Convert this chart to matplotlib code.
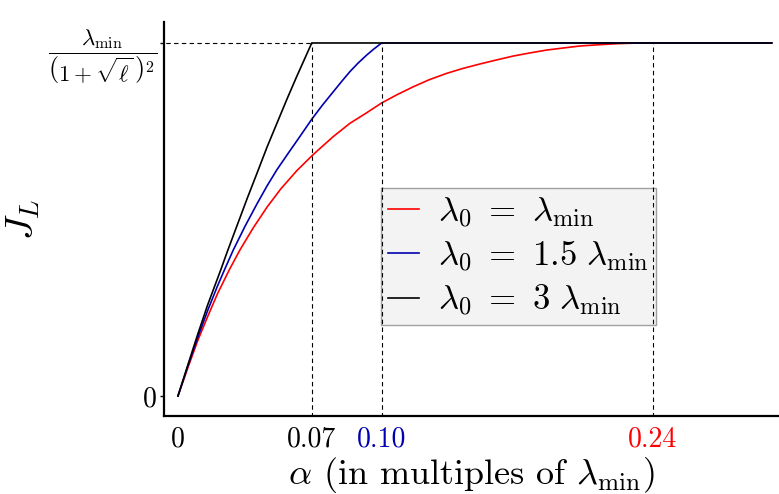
import numpy as np
import matplotlib
matplotlib.use("Agg")
import matplotlib.pyplot as plt

plt.rcParams['font.family'] = 'serif'
plt.rcParams['font.serif'] = ['cmr10']
plt.rcParams['mathtext.fontset'] = 'cm'
plt.rcParams['axes.unicode_minus'] = False

# values (J_L normalised to its ceiling)
x_red = [0, 0.005, 0.01, 0.015, 0.02, 0.0259, 0.0313, 0.038, 0.045, 0.052, 0.06, 0.0676,
         0.0709, 0.0785, 0.0869, 0.095, 0.1026, 0.1105, 0.1189, 0.127, 0.1358, 0.144,
         0.1526, 0.161, 0.1694, 0.178, 0.1863, 0.195, 0.2031, 0.2125, 0.2217, 0.23, 0.2385, 0.30]
y_red = [0, 0.08, 0.157, 0.225, 0.29, 0.357, 0.4136, 0.476, 0.535, 0.587, 0.638, 0.680,
         0.697, 0.735, 0.7725, 0.801, 0.829, 0.853, 0.876, 0.896, 0.914, 0.928,
         0.9405, 0.952, 0.963, 0.972, 0.980, 0.986, 0.9915, 0.995, 0.998, 0.9995, 1.0, 1.0]

x_blue = [0, 0.005, 0.01, 0.015, 0.02, 0.0237, 0.0279, 0.034, 0.04, 0.045, 0.05, 0.056,
          0.0616, 0.0676, 0.073, 0.0785, 0.083, 0.0869, 0.091, 0.0954, 0.099, 0.1029, 0.30]
y_blue = [0, 0.085, 0.166, 0.242, 0.312, 0.36, 0.413, 0.482, 0.545, 0.595, 0.641, 0.69,
          0.735, 0.784, 0.824, 0.862, 0.893, 0.919, 0.943, 0.966, 0.983, 1.0, 1.0]

x_black = [0, 0.005, 0.01, 0.015, 0.0216, 0.025, 0.03, 0.035, 0.04, 0.045, 0.0507,
           0.055, 0.06, 0.0676, 0.30]
y_black = [0, 0.088, 0.175, 0.258, 0.357, 0.41, 0.485, 0.56, 0.632, 0.705, 0.782,
           0.84, 0.905, 1.0, 1.0]

thresholds = [0.0676, 0.1029, 0.24]
thr_labels = ['0.07', '0.10', '0.24']
thr_colors = ['black', '#0000b0', 'red']

fig = plt.figure(figsize=(7.79, 4.94), dpi=100)
ax = fig.add_axes([0.2105, 0.1579, 0.7895, 0.7976])

ax.plot(x_red, y_red, color='red', lw=1.2, label=r'$\lambda_0\ =\ \lambda_{\mathrm{min}}$')
ax.plot(x_blue, y_blue, color='#0000b0', lw=1.2, label=r'$\lambda_0\ =\ 1.5\ \lambda_{\mathrm{min}}$')
ax.plot(x_black, y_black, color='black', lw=1.2, label=r'$\lambda_0\ =\ 3\ \lambda_{\mathrm{min}}$')

for t in thresholds:
    ax.plot([t, t], [-0.06, 1.0], color='black', lw=0.8, ls=(0, (4, 3)), zorder=3)
ax.plot([-0.01, thresholds[0]], [1.0, 1.0], color='black', lw=0.8, ls=(0, (4, 3)), zorder=0)

ax.set_xlim(-0.00707, 0.3037)
ax.set_ylim(-0.0567, 1.0595)

ax.set_xticks([0] + thresholds)
ax.set_xticklabels(['0'] + thr_labels, fontsize=20)
for lab, c in zip(ax.get_xticklabels()[1:], thr_colors):
    lab.set_color(c)
ax.tick_params(axis='x', length=0, pad=7)

ax.set_yticks([0, 1])
ax.set_yticklabels(['0', r'$\dfrac{\lambda_{\mathrm{min}}}{\left(1+\sqrt{\ell}\,\right)^2}$'], fontsize=16.5)
ax.get_yticklabels()[0].set_fontsize(20)
ax.tick_params(axis='y', length=3, width=1, pad=2)

for s in ['top', 'right']:
    ax.spines[s].set_visible(False)
for s in ['left', 'bottom']:
    ax.spines[s].set_linewidth(1.6)

ax.set_xlabel(r'$\alpha$ (in multiples of $\lambda_{\mathrm{min}}$)', fontsize=26, labelpad=2)
ax.set_ylabel(r'$J_L$', fontsize=28)
ax.yaxis.set_label_coords(-0.198, 0.5)

leg = ax.legend(loc='upper left', bbox_to_anchor=(0.353, 0.579), fontsize=25,
                handlelength=0.9, handletextpad=0.55, labelspacing=0.24,
                borderpad=0.2, borderaxespad=0, fancybox=False, framealpha=1)
leg.get_frame().set_facecolor('#f3f3f3')
leg.get_frame().set_edgecolor('#a0a0a0')
leg.set_zorder(2)

fig.savefig('out.png', dpi=100)
